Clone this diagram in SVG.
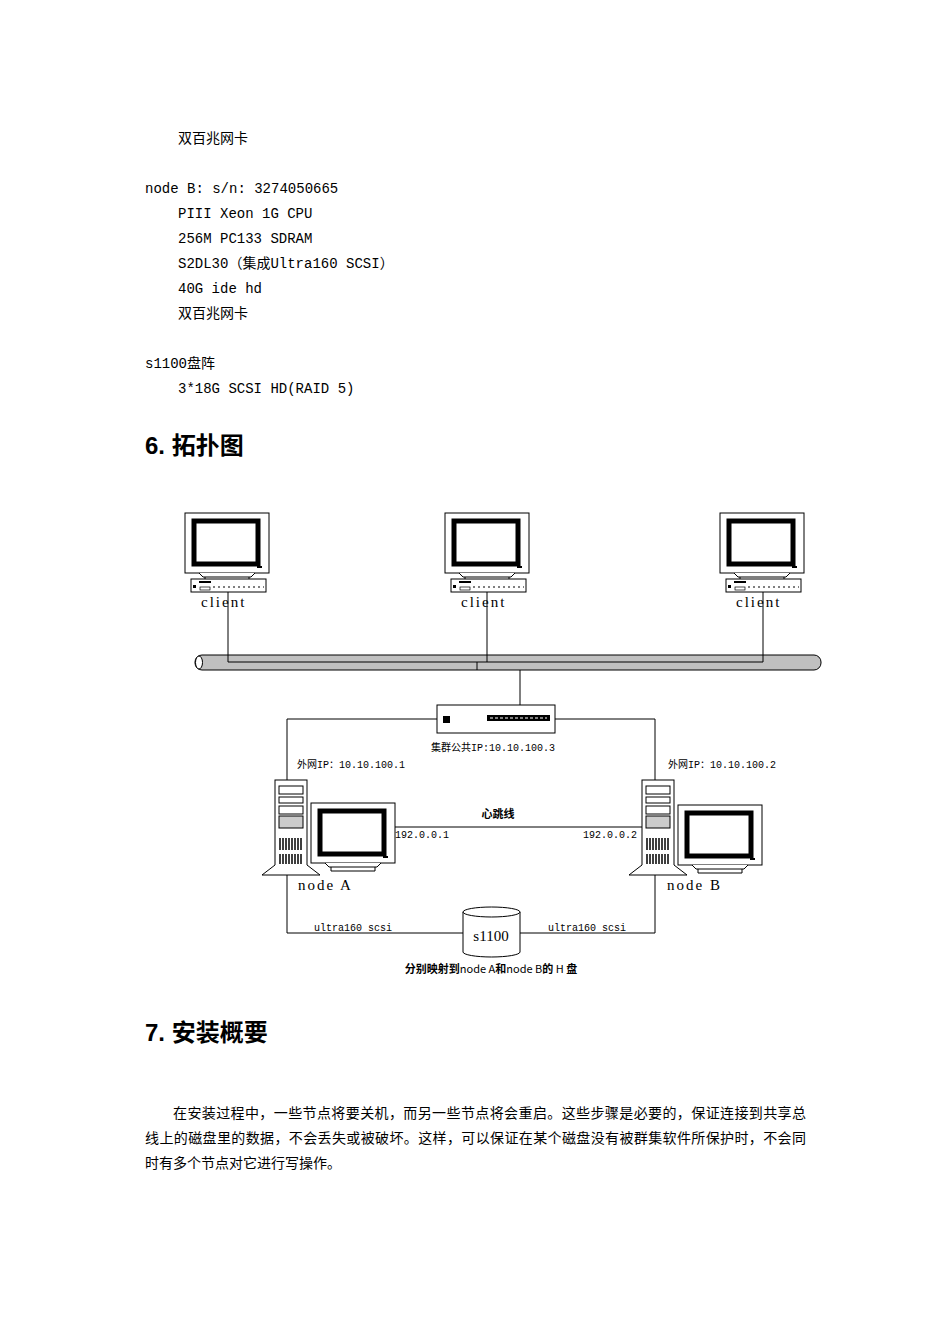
<svg xmlns="http://www.w3.org/2000/svg" width="950" height="1344" viewBox="0 0 950 1344">
<style>
.t{font-family:"Liberation Mono","Noto Sans CJK SC",monospace;font-size:14px;fill:#000}
.h{font-family:"Liberation Sans","Noto Sans CJK SC",sans-serif;font-size:24px;font-weight:bold}
.p{font-family:"Liberation Serif","Noto Sans CJK SC",serif;font-size:14px}
.s{font-family:"Liberation Mono","Noto Sans CJK SC",monospace;font-size:10px}
.l{font-family:"Liberation Serif",serif;font-size:15px;letter-spacing:2px}
.ln{stroke:#000;stroke-width:1;fill:none}
</style>
<defs>
<g id="mon">
<rect x="0" y="0" width="84" height="60" fill="#fff" stroke="#000"/>
<rect x="9" y="8" width="64" height="43" fill="#fff" stroke="#000" stroke-width="5"/>
<rect x="72" y="53" width="5" height="2" fill="#000"/>
<path d="M14 60 L18 64 L66 64 L70 60 M20 64 L20 68 L64 68 L64 64" fill="#fff" stroke="#000"/>
</g>
<g id="kb">
<rect x="0" y="0" width="75" height="13" fill="#fff" stroke="#000"/>
<rect x="8" y="2" width="12" height="2" fill="#000"/>
<rect x="2" y="6" width="3" height="3" fill="#000"/>
<rect x="9" y="8" width="10" height="3" fill="#fff" stroke="#000" stroke-width=".7"/>
<line x1="22" y1="8" x2="73" y2="8" stroke="#000" stroke-dasharray="2,3"/>
</g>
<g id="tower">
<rect x="0" y="0" width="32" height="90" fill="#fff" stroke="#000"/>
<rect x="4" y="6" width="24" height="8" fill="#fff" stroke="#000"/>
<rect x="4" y="17" width="24" height="6" fill="#fff" stroke="#000"/>
<rect x="4" y="26" width="24" height="8" fill="#fff" stroke="#000"/>
<rect x="4" y="36" width="24" height="12" fill="#ccc" stroke="#000"/>
<path d="M5 58 v12 M8 58 v12 M11 58 v12 M14 58 v12 M17 58 v12 M20 58 v12 M23 58 v12 M26 58 v12 M5 74 v10 M8 74 v10 M11 74 v10 M14 74 v10 M17 74 v10 M20 74 v10 M23 74 v10 M26 74 v10" stroke="#000" stroke-width="1.5"/>
<path d="M0 85 L-13 95 L45 95 L32 85" fill="#fff" stroke="#000"/>
</g>
</defs>
<g id="text-top">
<text class="t" x="178" y="143">双百兆网卡</text>
<text class="t" x="145" y="193">node B: s/n: 3274050665</text>
<text class="t" x="178" y="218">PIII Xeon 1G CPU</text>
<text class="t" x="178" y="243">256M PC133 SDRAM</text>
<text class="t" x="178" y="268">S2DL30（集成Ultra160 SCSI）</text>
<text class="t" x="178" y="293">40G ide hd</text>
<text class="t" x="178" y="318">双百兆网卡</text>
<text class="t" x="145" y="368">s1100盘阵</text>
<text class="t" x="178" y="393">3*18G SCSI HD(RAID 5)</text>
<text class="h" x="145" y="454">6. 拓扑图</text>
</g>
<g id="bus">
<rect x="195" y="655" width="626" height="15" rx="7" fill="#c0c0c0" stroke="#000"/>
<ellipse cx="199" cy="662.5" rx="3.5" ry="6.5" fill="#fff" stroke="#000"/>
</g>
<g id="connectors" class="ln">
<path d="M228 592 V662 H763 V592 M487 592 V662 M477 662 V670 M520 670 V705"/>
<path d="M437 719 H287 V780 M555 719 H655 V780"/>
<path d="M386 827 H642"/>
<path d="M287 875 V933 H463 M520 933 H655 V875"/>
</g>
<g id="client1"><use href="#mon" x="185" y="513"/><use href="#kb" x="191" y="579"/><text class="l" x="201" y="607">client</text></g>
<g id="client2"><use href="#mon" x="445" y="513"/><use href="#kb" x="451" y="579"/><text class="l" x="461" y="607">client</text></g>
<g id="client3"><use href="#mon" x="720" y="513"/><use href="#kb" x="726" y="579"/><text class="l" x="736" y="607">client</text></g>
<g id="switch">
<rect x="437" y="705" width="118" height="28" fill="#fff" stroke="#000"/>
<rect x="443" y="716" width="7" height="7" fill="#000"/>
<rect x="487" y="715" width="63" height="6" fill="#000"/>
<path d="M490 718 h57" stroke="#fff" stroke-dasharray="3,2"/>
<text class="s" x="493" y="751" text-anchor="middle" font-size="11">集群公共IP:10.10.100.3</text>
</g>
<g id="nodeA">
<use href="#tower" x="275" y="780"/><use href="#mon" x="311" y="803"/>
<text class="s" x="297" y="768">外网IP：10.10.100.1</text>
<text class="s" x="395" y="838">192.0.0.1</text>
<text class="l" x="298" y="890" letter-spacing="1">node  A</text>
</g>
<g id="nodeB">
<use href="#tower" x="642" y="780"/><use href="#mon" x="678" y="805"/>
<text class="s" x="668" y="768">外网IP：10.10.100.2</text>
<text class="s" x="583" y="838">192.0.0.2</text>
<text class="l" x="667" y="890" letter-spacing="1">node  B</text>
</g>
<text x="498" y="818" text-anchor="middle" font-family="Noto Sans CJK SC,sans-serif" font-size="11" font-weight="bold">心跳线</text>
<g id="s1100">
<path d="M463 912 V952 A28.5 5 0 0 0 520 952 V912" fill="#fff" stroke="#000"/>
<ellipse cx="491.5" cy="912" rx="28.5" ry="5" fill="#fff" stroke="#000"/>
<text x="491" y="941" text-anchor="middle" font-family="Liberation Serif,serif" font-size="15">s1100</text>
<text class="s" x="314" y="931">ultra160 scsi</text>
<text class="s" x="548" y="931">ultra160 scsi</text>
<text x="491" y="973" text-anchor="middle" font-family="Noto Sans CJK SC,sans-serif" font-size="11"><tspan font-weight="bold">分别映射到</tspan>node A<tspan font-weight="bold">和</tspan>node B<tspan font-weight="bold">的</tspan> H <tspan font-weight="bold">盘</tspan></text>
</g>
<g id="text-bottom">
<text class="h" x="145" y="1041">7. 安装概要</text>
<text class="p" x="173" y="1118" textLength="633">在安装过程中，一些节点将要关机，而另一些节点将会重启。这些步骤是必要的，保证连接到共享总</text>
<text class="p" x="145" y="1143" textLength="661">线上的磁盘里的数据，不会丢失或被破坏。这样，可以保证在某个磁盘没有被群集软件所保护时，不会同</text>
<text class="p" x="145" y="1168">时有多个节点对它进行写操作。</text>
</g>
</svg>
